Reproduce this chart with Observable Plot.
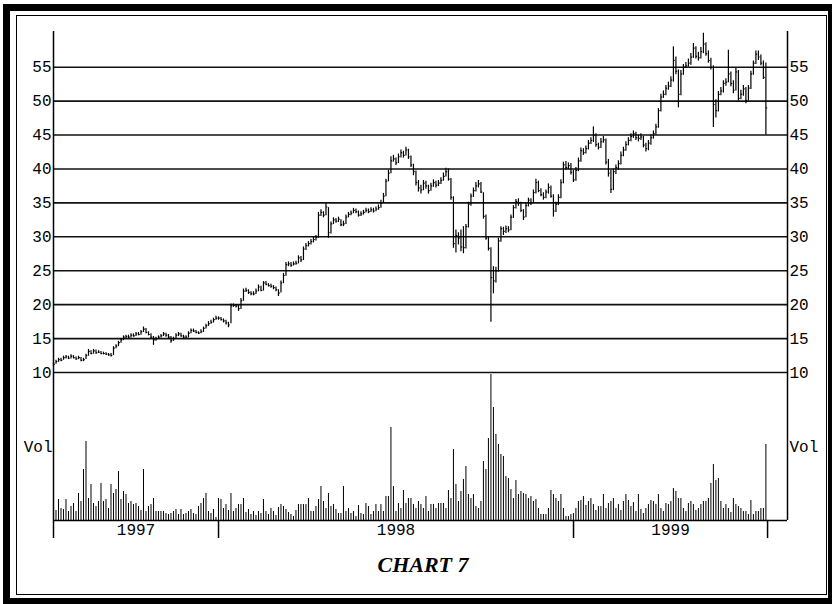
<!DOCTYPE html>
<html><head><meta charset="utf-8">
<script src="https://cdn.jsdelivr.net/npm/d3@7"></script>
<script src="https://cdn.jsdelivr.net/npm/@observablehq/plot@0.6"></script>
<style>
body{margin:0;background:#fff;}
#wrap{position:relative;width:832px;height:604px;overflow:hidden;background:#fff;}
#outer{position:absolute;left:3px;top:4px;width:829px;height:600px;box-sizing:border-box;border-style:solid;border-color:#000;border-width:7px 4px 6px 7px;}
#inner{position:absolute;left:16px;top:15px;width:811px;height:580px;box-sizing:border-box;border:1.5px solid #000;}
.layer{position:absolute;left:0;top:0;}
#caption{position:absolute;left:323px;top:554px;width:200px;text-align:center;font:italic bold 22px/22px "Liberation Serif",serif;color:#000;}
</style></head><body>
<div id="wrap">
<div id="outer"></div>
<div id="inner"></div>
<div id="price" class="layer"></div>
<div id="vol" class="layer"></div>
<div id="caption">CHART 7</div>
</div>
<script>
// daily-style price bars (every ~2.57 calendar days)
const close = [11.2,11.6,11.9,11.8,12.2,12.3,12.1,12.4,12.2,12.0,
12.2,11.8,11.9,12.5,13.1,12.8,13.2,12.9,13.0,12.8,
12.8,12.7,12.6,12.5,13.6,13.9,14.4,14.8,15.2,15.3,
15.2,15.5,15.4,15.7,15.6,16.0,16.4,15.9,15.6,15.2,
14.8,15.0,15.2,15.4,15.7,15.5,15.2,14.7,15.0,15.5,
15.7,15.4,15.2,15.2,15.8,16.2,16.1,15.9,15.8,16.0,
16.5,16.9,17.2,17.4,17.8,18.0,18.0,17.8,17.6,17.3,
17.0,19.8,19.9,19.8,19.4,20.6,22.0,22.1,21.8,21.6,
21.6,22.0,22.6,22.1,23.2,23.0,22.8,22.7,22.5,22.2,
21.7,23.2,24.3,25.9,26.0,25.8,26.0,26.1,26.9,26.6,
28.2,28.7,29.0,29.3,29.6,29.9,33.2,33.6,33.2,34.4,
30.6,31.9,32.5,32.3,32.6,31.8,31.9,32.9,33.3,33.5,
33.9,33.7,33.2,33.4,33.6,33.9,33.7,34.0,33.8,34.1,
34.3,35.0,36.0,38.2,39.4,41.2,41.5,40.9,41.8,42.4,
42.0,42.8,41.8,40.6,39.6,38.0,37.2,36.9,37.9,37.5,
36.8,37.5,38.0,37.6,37.9,38.3,38.9,39.6,38.5,35.8,
29.0,30.2,29.8,28.5,28.4,31.5,34.8,36.0,36.8,37.5,
37.8,36.6,33.0,29.8,28.3,24.0,23.5,25.0,29.4,31.2,
30.8,31.2,31.0,32.9,34.3,35.2,35.0,33.9,32.9,34.6,
35.4,35.0,36.5,38.0,36.8,36.2,35.8,36.6,37.3,36.0,
33.8,34.8,35.8,38.0,40.6,40.2,40.5,39.5,38.4,39.8,
41.2,42.7,42.4,43.0,43.8,44.2,45.0,43.6,43.2,44.0,
44.3,41.0,39.4,37.0,39.6,40.2,40.8,42.0,42.8,43.6,
44.2,44.8,45.2,44.6,44.5,44.7,43.5,43.0,43.8,44.6,
45.2,46.2,48.6,50.6,51.0,51.9,52.2,53.1,56.0,54.4,
51.0,54.0,55.0,55.2,55.6,56.5,57.8,56.6,56.4,57.3,
58.4,57.0,56.0,55.0,49.5,48.6,51.0,51.5,52.6,52.8,
54.0,52.6,51.6,54.3,50.4,51.0,51.8,50.1,51.9,54.0,
55.6,56.9,56.5,55.6,53.5,49.0];

const high = [11.5,11.8,12.1,12.1,12.4,12.5,12.4,12.6,12.5,12.3,
12.4,12.2,12.1,12.7,13.4,13.2,13.4,13.3,13.2,13.1,
13.0,12.9,12.8,12.8,13.8,14.1,14.6,15.0,15.4,15.5,
15.5,15.7,15.7,15.9,15.9,16.2,16.7,16.5,16.0,15.7,
15.3,15.2,15.4,15.6,15.9,15.8,15.6,15.3,15.2,15.7,
15.9,15.8,15.5,15.4,16.0,16.4,16.4,16.2,16.0,16.3,
16.7,17.1,17.5,17.7,18.0,18.3,18.2,18.1,17.9,17.7,
17.4,20.1,20.1,20.0,19.9,20.9,22.3,22.4,22.2,21.9,
21.9,22.3,22.9,22.7,23.4,23.4,23.1,23.0,22.8,22.6,
22.2,23.5,24.6,26.2,26.3,26.2,26.3,26.4,27.2,27.1,
28.5,29.0,29.3,29.6,30.0,30.2,33.6,34.0,33.7,34.9,
34.3,32.2,32.8,32.7,32.9,32.5,32.3,33.2,33.6,33.8,
34.2,34.1,33.8,33.7,33.9,34.2,34.1,34.3,34.2,34.4,
34.7,35.4,36.4,38.5,39.8,41.8,42.0,41.6,42.2,42.8,
42.6,43.2,42.9,41.9,40.7,39.7,38.3,37.6,38.3,38.2,
37.6,37.9,38.4,38.2,38.3,38.7,39.4,40.1,40.0,38.6,
35.9,31.0,30.6,31.0,31.5,31.8,35.1,36.3,37.2,38.0,
38.3,38.0,36.5,33.2,30.0,28.4,25.6,25.5,29.8,31.5,
31.4,31.6,31.5,33.2,34.6,35.5,35.6,35.1,34.0,35.0,
35.7,35.6,36.9,38.5,38.2,37.1,36.5,36.9,37.8,37.5,
36.2,35.1,36.2,38.4,41.0,41.1,40.9,40.8,39.8,40.2,
41.6,43.1,43.0,43.4,44.2,44.6,46.2,45.2,43.8,44.5,
44.8,44.4,41.4,39.8,40.0,40.6,41.2,42.5,43.2,44.0,
44.6,45.2,45.6,45.4,45.0,45.2,44.8,43.8,44.2,45.0,
45.6,46.6,48.9,51.0,51.5,52.3,52.8,53.6,58.0,56.5,
54.6,54.5,55.4,55.7,56.2,57.0,58.5,58.0,57.2,57.9,
60.0,58.6,57.4,56.3,55.2,50.2,51.4,52.0,53.0,53.3,
57.5,54.3,53.0,54.8,54.5,51.6,52.3,52.0,52.3,54.4,
55.9,57.4,57.4,56.8,55.9,55.6];

const low = [10.9,11.2,11.5,11.6,11.8,12.0,11.9,12.0,12.0,11.8,
11.9,11.6,11.6,11.9,12.4,12.6,12.7,12.7,12.8,12.6,
12.6,12.5,12.4,12.3,12.5,13.5,13.8,14.3,14.7,15.0,
15.0,15.1,15.2,15.3,15.4,15.5,15.9,15.7,15.4,15.0,
14.0,14.6,14.9,15.1,15.3,15.2,14.9,14.3,14.6,14.9,
15.3,15.2,15.0,15.0,15.1,15.7,15.9,15.7,15.6,15.7,
15.9,16.4,16.8,17.1,17.3,17.7,17.7,17.6,17.3,17.0,
16.6,17.2,19.6,19.5,19.0,19.3,20.5,21.8,21.5,21.3,
21.3,21.5,21.9,21.9,22.0,22.8,22.6,22.4,22.2,21.9,
21.2,21.7,23.1,24.2,25.6,25.5,25.7,25.8,26.0,26.2,
26.5,28.0,28.5,28.8,29.1,29.4,29.8,33.0,32.8,33.1,
29.8,30.4,31.8,32.0,32.1,31.5,31.5,31.8,32.8,33.1,
33.4,33.4,32.9,33.0,33.2,33.5,33.4,33.6,33.5,33.7,
33.9,34.2,34.9,35.9,38.1,39.3,41.0,40.5,40.8,41.6,
41.6,41.9,41.4,40.2,39.0,37.5,36.6,36.3,36.8,37.0,
36.3,36.7,37.3,37.2,37.4,37.7,38.2,38.8,38.2,35.4,
28.3,27.6,28.8,27.8,27.5,28.2,31.3,34.5,35.8,36.6,
37.2,36.4,32.6,29.5,27.9,17.4,21.6,23.2,24.8,29.2,
30.2,30.5,30.6,30.9,32.7,34.1,34.5,33.6,32.4,32.8,
34.4,34.6,34.9,36.3,36.5,35.9,35.4,35.6,36.3,35.7,
32.9,33.6,34.6,35.6,37.8,39.8,39.9,39.1,38.0,38.2,
39.6,41.0,42.0,42.2,42.8,43.6,43.9,43.2,42.8,43.0,
43.8,40.6,38.8,36.4,36.8,39.2,39.8,40.6,41.8,42.6,
43.4,44.0,44.5,44.2,44.0,44.2,43.1,42.5,42.7,43.5,
44.4,45.0,46.0,48.4,50.4,50.8,51.6,52.0,52.8,53.9,
49.0,50.8,53.8,54.8,55.0,55.3,56.3,56.2,55.9,56.2,
57.0,56.6,55.6,54.6,46.1,47.5,48.4,50.8,51.2,52.2,
52.7,52.1,51.1,51.5,50.0,50.2,50.7,49.6,50.0,51.7,
53.8,55.4,56.0,55.2,53.2,45.0];

// volume, arbitrary units
const volume = [16,10,21,12,11,21,9,14,17,9,
27,19,51,79,22,36,17,14,19,37,
19,21,12,36,27,31,49,21,29,26,
17,19,16,17,14,10,51,9,14,16,
22,9,9,9,9,7,6,7,9,11,
6,11,6,7,9,11,7,6,14,17,
22,27,9,7,11,3,22,21,12,16,
10,27,9,12,16,16,22,8,11,6,
9,5,9,7,21,9,6,12,9,5,
13,16,14,11,8,6,4,10,16,16,
16,16,22,9,9,14,21,34,19,12,
27,14,16,11,7,7,34,9,12,7,
9,4,15,7,6,17,14,6,9,16,
9,16,9,24,24,93,34,9,17,12,
30,17,22,22,16,12,19,16,12,24,
9,16,16,12,17,17,17,12,30,22,
71,36,19,29,41,54,26,22,26,14,
12,19,59,51,82,146,113,86,76,66,
64,44,42,31,22,40,26,29,27,26,
22,24,19,21,12,6,6,6,12,30,
26,22,19,26,12,4,4,6,7,12,
19,20,24,15,19,22,16,10,14,14,
26,12,17,19,22,12,16,10,19,26,
20,14,18,9,26,11,7,12,16,20,
19,16,26,12,9,17,16,19,32,29,
22,22,12,9,17,19,16,10,12,16,
19,19,22,37,56,40,42,19,12,16,
12,8,22,16,14,12,9,9,6,20,
6,9,9,12,12,76];

const priceTicks = [10,15,20,25,30,35,40,45,50,55];
const yearLabels = ["1997","1998","1999"];
const yearTicks = [new Date(Date.UTC(1997,6,15,8)), new Date(Date.UTC(1998,0,1)), new Date(Date.UTC(1999,0,1)), new Date(Date.UTC(1999,6,19,12))];
const xDomain = [new Date(Date.UTC(1997,6,15,8)), new Date(Date.UTC(1999,7,9))];
const firstBar = new Date(Date.UTC(1997,6,15,8));
const barDays = 2.57;
const DAY = 864e5;

const bars = close.map((c, i) => ({
  date: new Date(+firstBar + i * barDays * DAY),
  close: c, high: high[i], low: low[i], vol: volume[i]
}));
const yearMarks = yearLabels.map((t, i) => ({label: t, date: new Date((+yearTicks[i] + +yearTicks[i+1]) / 2)}));

const fontStyle = "background:transparent;font-family:'Liberation Mono',monospace;font-size:16px;color:#000;";

const price = Plot.plot({
  width: 832, height: 604,
  marginLeft: 53, marginRight: 45, marginTop: 31, marginBottom: 232,
  style: fontStyle,
  x: {type: "utc", domain: xDomain, axis: null},
  y: {domain: [10, 60.26], axis: null},
  marks: [
    Plot.ruleY(priceTicks, {stroke: "#111", strokeWidth: 1.6}),
    Plot.ruleX(xDomain, {stroke: "#000", strokeWidth: 1.5}),
    Plot.axisY(priceTicks, {anchor: "left", tickSize: 0, tickPadding: 2, label: null, fontSize: 16}),
    Plot.axisY(priceTicks, {anchor: "right", tickSize: 0, tickPadding: 2, label: null, fontSize: 16}),
    Plot.ruleX(bars, {x: "date", y1: "low", y2: "high", stroke: "#000", strokeWidth: 1.2}),
    Plot.link(bars, {x1: "date", x2: d => new Date(+d.date + 1.3 * DAY), y1: "close", y2: "close", stroke: "#000", strokeWidth: 1.2})
  ]
});
document.getElementById("price").append(price);

const vol = Plot.plot({
  width: 832, height: 604,
  marginLeft: 53, marginRight: 45, marginTop: 372, marginBottom: 84,
  style: fontStyle,
  x: {type: "utc", domain: xDomain, axis: null},
  y: {domain: [0, 148], axis: null},
  marks: [
    Plot.ruleX(bars, {x: "date", y1: 0, y2: "vol", stroke: "#000", strokeWidth: 1}),
    Plot.ruleY([0], {stroke: "#000", strokeWidth: 1.6}),
    Plot.ruleX(xDomain, {stroke: "#000", strokeWidth: 1.5}),
    Plot.axisX(yearTicks, {anchor: "bottom", tickSize: 18, tickFormat: () => "", label: null, strokeWidth: 1.5}),
    Plot.text(yearMarks, {x: "date", text: "label", frameAnchor: "bottom", lineAnchor: "top", dy: 3, fontSize: 16}),
    Plot.text(["Vol"], {frameAnchor: "left", textAnchor: "end", dx: -1, fontSize: 16}),
    Plot.text(["Vol"], {frameAnchor: "right", textAnchor: "start", dx: 2, fontSize: 16})
  ]
});
document.getElementById("vol").append(vol);
</script>
</body></html>
